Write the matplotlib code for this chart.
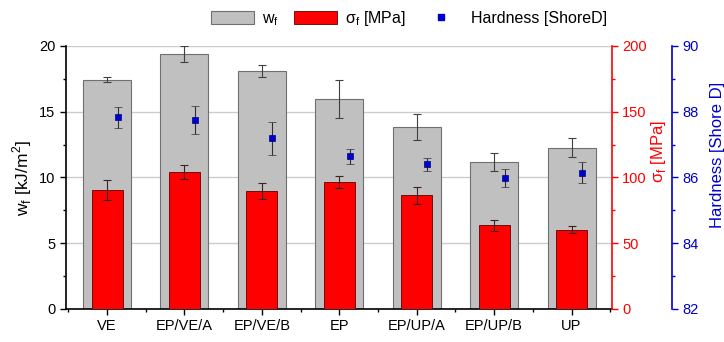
import matplotlib
matplotlib.use('Agg')
import matplotlib.pyplot as plt
from matplotlib.patches import Patch
from matplotlib.lines import Line2D
from matplotlib.ticker import MultipleLocator
import numpy as np

plt.rcParams['font.family'] = ['Liberation Sans', 'DejaVu Sans']
plt.rcParams['mathtext.fontset'] = 'custom'
plt.rcParams['mathtext.rm'] = 'Liberation Sans'

samples = ['VE', 'EP/VE/A', 'EP/VE/B', 'EP', 'EP/UP/A', 'EP/UP/B', 'UP']
wf = [17.45, 19.42, 18.12, 16.0, 13.82, 11.2, 12.28]
wf_err = [0.2, 0.6, 0.45, 1.45, 1.0, 0.7, 0.75]
sigma = [90.3, 104.2, 89.7, 96.6, 86.4, 63.6, 60.3]
sigma_err = [7.6, 5.3, 6.0, 4.8, 6.6, 4.0, 2.7]
hardness = [87.83, 87.74, 87.19, 86.64, 86.4, 85.99, 86.15]
hardness_err = [0.32, 0.43, 0.5, 0.23, 0.2, 0.27, 0.32]

red = '#ff0000'
blue = '#0000cc'
x = np.arange(len(samples))

fig, ax = plt.subplots(figsize=(7.24, 3.42), dpi=100)
fig.subplots_adjust(left=0.0912, right=0.845, bottom=0.0965, top=0.8655)

ax2 = ax.twinx()
ax3 = ax.twinx()
ax3.spines['right'].set_position(('axes', 1.11))

# gray bars: fracture work
ax.bar(x, wf, width=0.62, color='#c0c0c0', edgecolor='#707070', linewidth=0.8, zorder=2)
ax.errorbar(x, wf, yerr=wf_err, fmt='none', ecolor='#404040', elinewidth=0.8, capsize=3, capthick=0.8, zorder=3)

# red bars: strength
ax2.bar(x, sigma, width=0.40, color=red, edgecolor='#600000', linewidth=0.6, zorder=2)
ax2.errorbar(x, sigma, yerr=sigma_err, fmt='none', ecolor='#402020', elinewidth=0.8, capsize=3, capthick=0.8, zorder=3)

# blue squares: hardness
ax3.errorbar(x + 0.135, hardness, yerr=hardness_err, fmt='s', color=blue, markersize=5,
             markeredgecolor='#000080', markeredgewidth=0.5,
             ecolor='#303030', elinewidth=0.8, capsize=3, capthick=0.8, zorder=4)

ax.set_xlim(-0.53, 6.52)
ax.set_ylim(0, 20)
ax2.set_ylim(0, 200)
ax3.set_ylim(82, 90)

ax.set_axisbelow(True)
ax.yaxis.grid(True, color='#cccccc', linewidth=1.0, zorder=0)
ax.set_yticks([0, 5, 10, 15, 20])

ax.set_xticks(x)
ax.set_xticklabels(samples, fontsize=10.5)
ax.xaxis.set_minor_locator(MultipleLocator(0.5))
ax.yaxis.set_minor_locator(MultipleLocator(2.5))
ax2.yaxis.set_minor_locator(MultipleLocator(25))
ax3.yaxis.set_minor_locator(MultipleLocator(1))
ax2.set_yticks([0, 50, 100, 150, 200])
ax3.set_yticks([82, 84, 86, 88, 90])

for a in (ax, ax2, ax3):
    a.spines['top'].set_visible(False)
ax.spines['right'].set_visible(False)
ax2.spines['left'].set_visible(False)
ax3.spines['left'].set_visible(False)
ax2.spines['bottom'].set_visible(False)
ax3.spines['bottom'].set_visible(False)

ax.tick_params(axis='both', which='major', direction='out', length=4, width=1, labelsize=10.5)
ax.tick_params(axis='both', which='minor', direction='out', length=2.5, width=1)
ax2.spines['right'].set_color(red)
ax2.tick_params(axis='y', which='both', colors=red, labelsize=10.5, width=1)
ax2.tick_params(axis='y', which='major', length=4)
ax2.tick_params(axis='y', which='minor', length=2.5)
ax3.spines['right'].set_color(blue)
ax3.tick_params(axis='y', which='both', colors=blue, labelsize=10.5, width=1)
ax3.tick_params(axis='y', which='major', length=4)
ax3.tick_params(axis='y', which='minor', length=2.5)
for a in (ax, ax2, ax3):
    for s in a.spines.values():
        s.set_linewidth(1.2)

ax.set_ylabel('w$_\\mathregular{f}$ [kJ/m$^\\mathregular{2}$]', fontsize=12.5, labelpad=4)
ax2.set_ylabel('σ$_\\mathregular{f}$ [MPa]', fontsize=12, color=red, labelpad=1)
ax3.set_ylabel('Hardness [Shore D]', fontsize=12, color=blue, labelpad=3)
ax2.yaxis.set_label_coords(1.068, 0.6)
ax3.yaxis.set_label_coords(1.18, 0.585)

handles = [
    Patch(facecolor='#c0c0c0', edgecolor='#707070', linewidth=0.8),
    Patch(facecolor=red, edgecolor='#600000', linewidth=0.6),
    Line2D([], [], marker='s', linestyle='none', color=blue, markersize=5),
]
labels = ['w$_\\mathregular{f}$', 'σ$_\\mathregular{f}$ [MPa]', 'Hardness [ShoreD]']
fig.legend(handles, labels, ncol=3, frameon=False, loc='center', bbox_to_anchor=(0.565, 0.945),
           fontsize=11.5, handlelength=2.7, handleheight=0.9, columnspacing=0.9, handletextpad=0.5)

fig.savefig('out.png', dpi=100)
